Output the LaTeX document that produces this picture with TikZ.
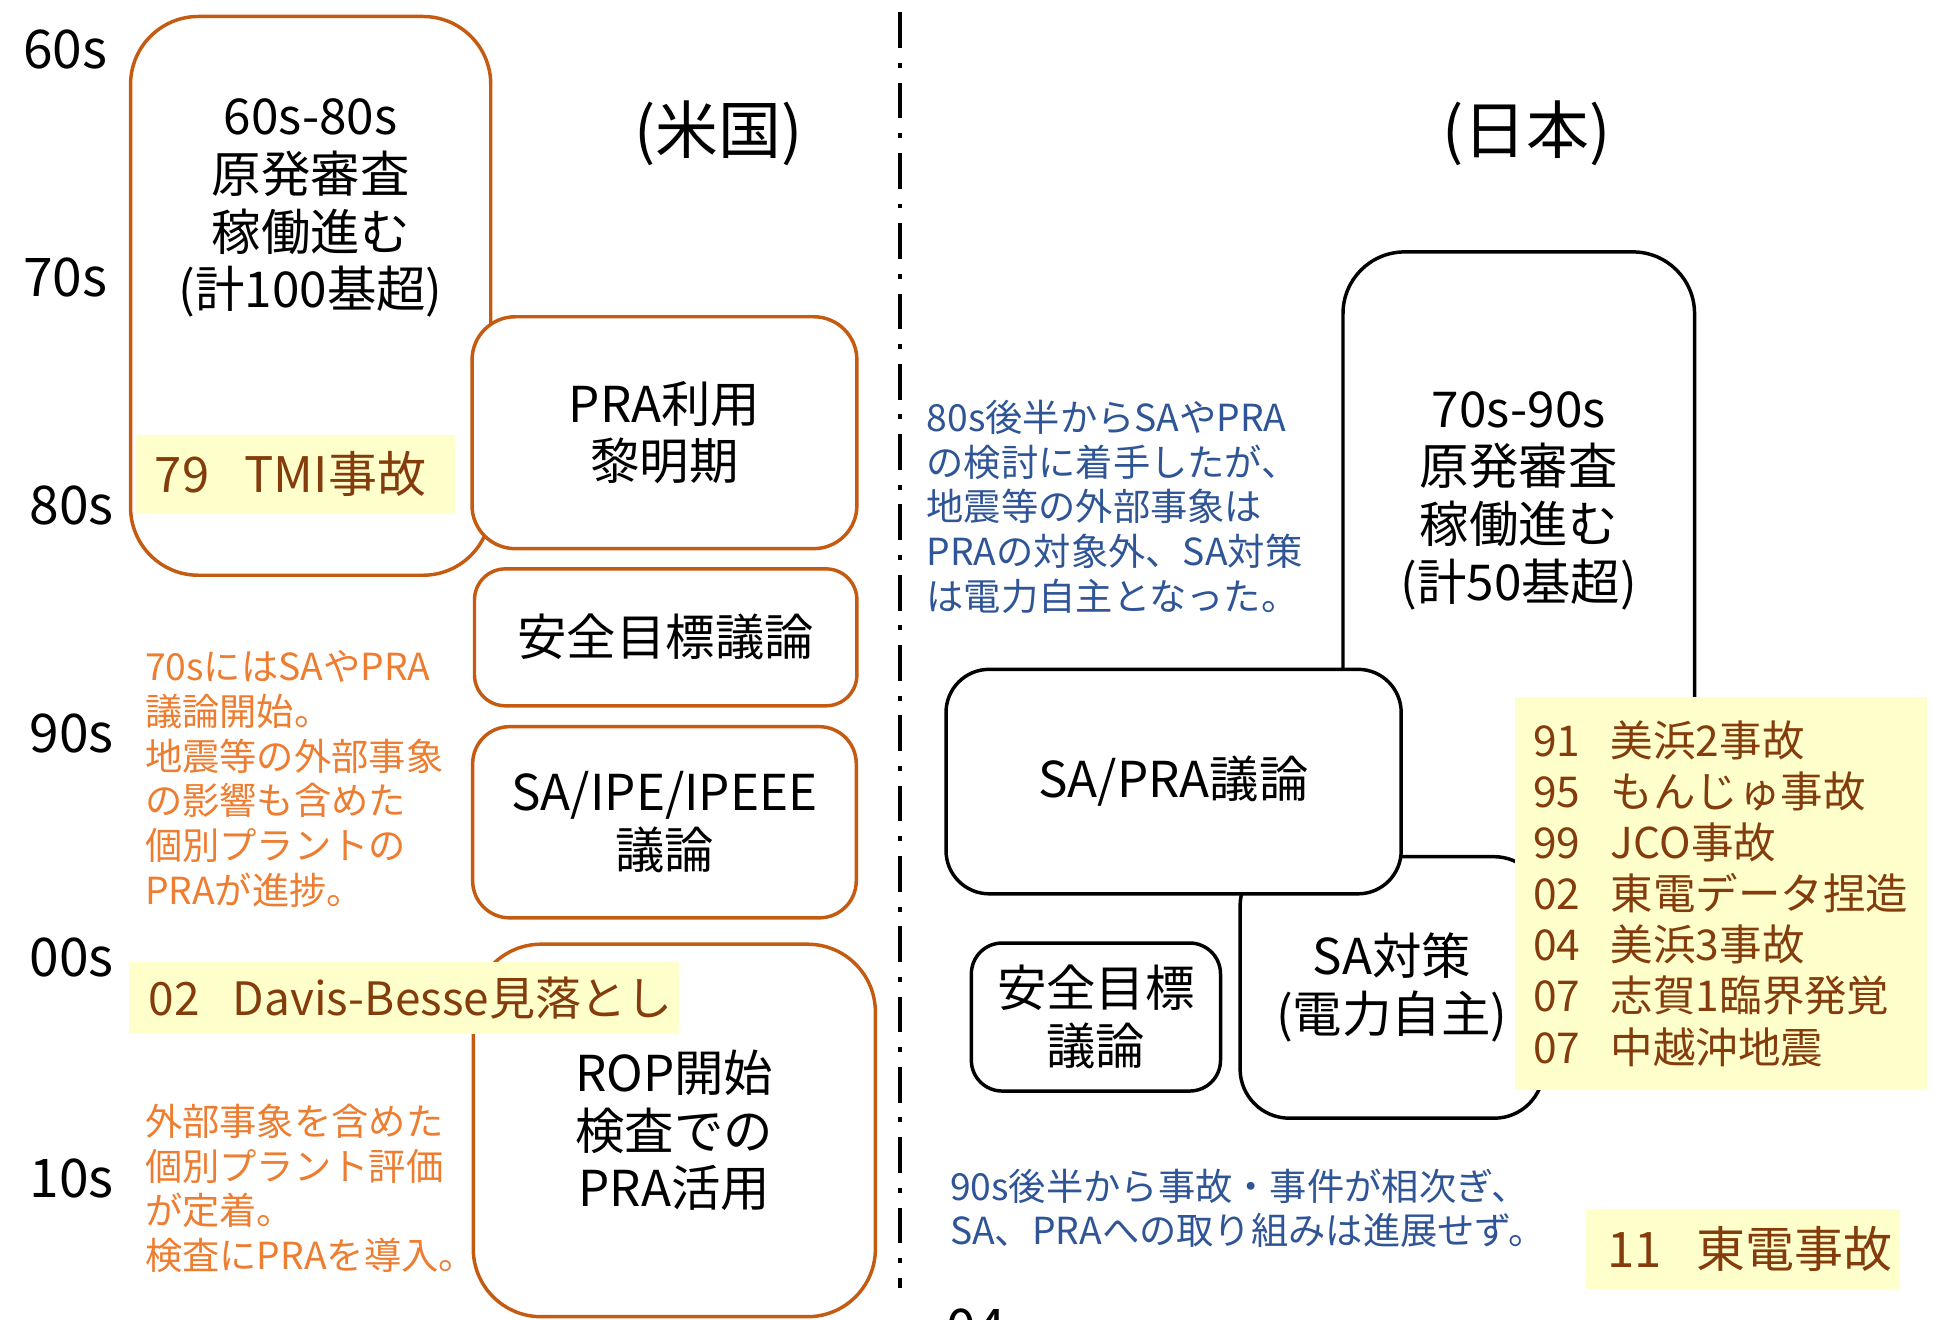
\documentclass[tikz,border=0pt]{standalone}
\usepackage{fontspec}
\setmainfont{Noto Sans CJK JP}
\usepackage{tikz}

\definecolor{usorange}{HTML}{C55A11}
\definecolor{noteorange}{HTML}{ED7D31}
\definecolor{evbrown}{HTML}{843C0C}
\definecolor{evyellow}{HTML}{FFFFCC}
\definecolor{noteblue}{HTML}{2F5597}

\newcommand{\boxfont}{\fontsize{11.4}{13.3}\selectfont}
\newcommand{\headfont}{\fontsize{14.5}{17}\selectfont}
\newcommand{\decfont}{\fontsize{12.3}{14}\selectfont}
\newcommand{\notefont}{\fontsize{8.6}{10.3}\selectfont}
\newcommand{\eventfont}{\fontsize{11.3}{13}\selectfont}
\newcommand{\listfont}{\fontsize{9.8}{11.8}\selectfont}
\newcommand{\evline}[2]{\mbox{#1\hspace{0.72em}#2}}

\begin{document}
\begin{tikzpicture}[x=0.01cm,y=-0.01cm]
\tikzstyle{usbox} = [draw=usorange,line width=0.8pt,fill=white,inner sep=0pt,
align=center,font=\boxfont]
\tikzstyle{jpbox} = [draw=black,line width=0.8pt,fill=white,inner sep=0pt,
align=center,font=\boxfont]
\tikzstyle{event} = [fill=evyellow,text=evbrown,anchor=north west,inner ysep=0pt,
align=left,font=\eventfont]
\tikzstyle{decade} = [inner sep=0pt,font=\decfont]
\tikzstyle{note} = [anchor=west,inner sep=0pt,align=left,font=\notefont]
\useasboundingbox (0,0) rectangle (1568,1070);

% decades
\node[decade] (d60) at (53,40) {60s};
\node[decade] (d70) at (53,225) {70s};
\node[decade] (d80) at (58,410) {80s};
\node[decade] (d90) at (58,595) {90s};
\node[decade] (d00) at (58,777) {00s};
\node[decade] (d10) at (58,956) {10s};

% US side
\node[font=\headfont,inner sep=0pt] (us) at (583,108) {(米国)};
\node[usbox,rounded corners=0.55cm,minimum width=2.92cm,minimum height=4.53cm] (usplants) at (252,240) {};
\node[font=\boxfont,align=center,inner sep=0pt] (usplantstext) at (252,169) {60s-80s\\原発審査\\稼働進む\\(計100基超)};
\node[event,text width=2.28cm,inner xsep=0.15cm,minimum height=0.64cm] (tmi) at (110,352) {\evline{79}{TMI事故}};
\node[usbox,rounded corners=0.35cm,minimum width=3.12cm,minimum height=1.88cm] (usdawn) at (539,351) {PRA利用\\黎明期};
\node[usbox,rounded corners=0.25cm,minimum width=3.10cm,minimum height=1.11cm] (usgoal) at (540,517) {安全目標議論};
\node[usbox,rounded corners=0.3cm,minimum width=3.11cm,minimum height=1.55cm] (usipe) at (539,667) {SA/IPE/IPEEE\\議論};
\node[usbox,rounded corners=0.55cm,minimum width=3.26cm,minimum height=3.02cm] (usrop) at (547,917) {ROP開始\\検査での\\PRA活用};
\node[event,font=\fontsize{10.6}{12}\selectfont,text width=4.14cm,inner xsep=0.16cm,minimum height=0.58cm] (davis) at (104,780) {\evline{02}{Davis-Besse見落とし}};
\node[note,text=noteorange] (usnote1) at (117,632) {70sにはSAやPRA\\議論開始。\\地震等の外部事象\\の影響も含めた\\個別プラントの\\PRAが進捗。};
\node[note,text=noteorange] (usnote2) at (117,964) {外部事象を含めた\\個別プラント評価\\が定着。\\検査にPRAを導入。};

% divider
\coordinate (divtop) at (730,10);
\coordinate (divbot) at (730,1045);
\draw[line width=1pt,dash pattern=on 0.29cm off 0.12cm on 0.04cm off 0.12cm] (divtop) -- (divbot);

% Japan side
\node[font=\headfont,inner sep=0pt] (jp) at (1238,108) {(日本)};
\node[jpbox,rounded corners=0.5cm,minimum width=2.85cm,minimum height=5.15cm] (jpplants) at (1232,462) {};
\node[font=\boxfont,align=center,inner sep=0pt] (jpplantstext) at (1232,406) {70s-90s\\原発審査\\稼働進む\\(計50基超)};
\node[jpbox,rounded corners=0.4cm,minimum width=2.46cm,minimum height=2.12cm] (jpsa) at (1129,801) {SA対策\\(電力自主)};
\node[jpbox,rounded corners=0.35cm,minimum width=3.69cm,minimum height=1.82cm] (jpsapra) at (952,634) {SA/PRA議論};
\node[jpbox,rounded corners=0.25cm,minimum width=2.02cm,minimum height=1.20cm] (jpgoal) at (889,825) {安全目標\\議論};
\node[event,font=\listfont,text width=3.04cm,inner xsep=0.15cm,minimum height=3.18cm] (jpevents) at (1228,565)
  {\evline{91}{美浜2事故}\\\evline{95}{もんじゅ事故}\\\evline{99}{JCO事故}\\\evline{02}{東電データ捏造}\\
   \evline{04}{美浜3事故}\\\evline{07}{志賀1臨界発覚}\\\evline{07}{中越沖地震}\\[0.1cm]};
\node[event,text width=2.20cm,inner xsep=0.17cm,minimum height=0.65cm] (tepco) at (1286,980) {\evline{11}{東電事故}};
\node[note,text=noteblue] (jpnote1) at (751,411) {80s後半からSAやPRA\\の検討に着手したが、\\地震等の外部事象は\\PRAの対象外、SA対策\\は電力自主となった。};
\node[note,text=noteblue] (jpnote2) at (770,980) {90s後半から事故・事件が相次ぎ、\\SA、PRAへの取り組みは進展せず。};
\node[font=\decfont,inner sep=0pt] (pagenum) at (792,1078) {04};
\end{tikzpicture}
\end{document}
